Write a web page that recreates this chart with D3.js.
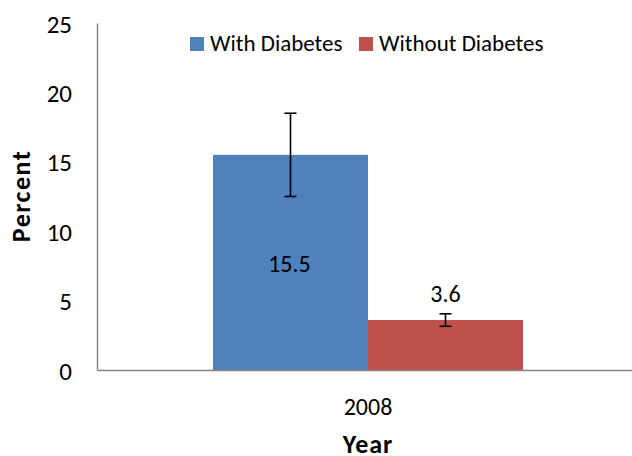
<!DOCTYPE html>
<html>
<head>
<meta charset="utf-8">
<script src="https://cdn.jsdelivr.net/npm/d3@7"></script>
<style>
  body { margin: 0; background: #fff; }
  text { font-family: Carlito, Lato, "Open Sans", sans-serif; fill: #000; }
</style>
</head>
<body>
<div id="chart"></div>
<script>
var categories = ["2008"];
var seriesNames = ["With Diabetes", "Without Diabetes"];
var seriesColors = ["#4F81BD", "#C0504D"];
var values = [15.5, 3.6];
var errLow = [12.5, 3.15];
var errHigh = [18.5, 4.05];
var yTicks = [0, 5, 10, 15, 20, 25];

function init() {
  var width = 632;
  var height = 456;
  var margin = { left: 97, right: -7, top: 23, bottom: 86 };

  var svg = d3.select("#chart")
    .append("svg")
    .attr("width", width)
    .attr("height", height);

  var y = d3.scaleLinear()
    .domain([0, 25])
    .range([height - margin.bottom, margin.top]);

  var x = d3.scaleBand()
    .domain(categories)
    .range([margin.left, width - margin.right]);

  var groupFrac = 0.572;
  var center = x(categories[0]) + x.bandwidth() / 2;
  var xs = d3.scaleBand()
    .domain(seriesNames)
    .range([center - x.bandwidth() * groupFrac / 2, center + x.bandwidth() * groupFrac / 2]);

  // bars
  svg.selectAll("rect.bar")
    .data(values)
    .enter()
    .append("rect")
    .attr("class", "bar")
    .attr("x", function(d, i) { return xs(seriesNames[i]); })
    .attr("width", xs.bandwidth())
    .attr("y", function(d) { return y(d); })
    .attr("height", function(d) { return y(0) - y(d); })
    .style("fill", function(d, i) { return seriesColors[i]; });

  // error bars
  var eb = svg.selectAll("g.err")
    .data(values)
    .enter()
    .append("g")
    .attr("class", "err")
    .attr("stroke", "#000")
    .attr("stroke-width", 1.6);
  eb.append("line")
    .attr("x1", function(d, i) { return xs(seriesNames[i]) + xs.bandwidth() / 2; })
    .attr("x2", function(d, i) { return xs(seriesNames[i]) + xs.bandwidth() / 2; })
    .attr("y1", function(d, i) { return y(errLow[i]); })
    .attr("y2", function(d, i) { return y(errHigh[i]); });
  [errLow, errHigh].forEach(function(arr) {
    eb.append("line")
      .attr("x1", function(d, i) { return xs(seriesNames[i]) + xs.bandwidth() / 2 - 6; })
      .attr("x2", function(d, i) { return xs(seriesNames[i]) + xs.bandwidth() / 2 + 6; })
      .attr("y1", function(d, i) { return y(arr[i]); })
      .attr("y2", function(d, i) { return y(arr[i]); });
  });

  // value labels
  svg.append("text")
    .attr("x", xs(seriesNames[0]) + xs.bandwidth() / 2 - 1)
    .attr("y", 272)
    .attr("text-anchor", "middle")
    .style("font-size", "24px")
    .text(values[0].toFixed(1));
  svg.append("text")
    .attr("x", xs(seriesNames[1]) + xs.bandwidth() / 2)
    .attr("y", 302)
    .attr("text-anchor", "middle")
    .style("font-size", "24px")
    .text(values[1].toFixed(1));

  // y axis
  var yAxis = svg.append("g")
    .attr("transform", "translate(" + margin.left + ",0)")
    .call(d3.axisLeft(y).tickValues(yTicks).tickSize(0).tickPadding(25));
  yAxis.select(".domain").attr("stroke", "#868686").attr("stroke-width", 1.5);
  yAxis.selectAll("text").style("font-size", "25px").attr("dy", "0.36em");

  // x axis
  var xAxis = svg.append("g")
    .attr("transform", "translate(0," + y(0) + ")")
    .call(d3.axisBottom(x).tickSize(0).tickPadding(28));
  xAxis.select(".domain").attr("stroke", "#868686").attr("stroke-width", 1.5);
  xAxis.selectAll("text").style("font-size", "24px");

  // axis titles
  svg.append("text")
    .attr("transform", "translate(30,196) rotate(-90)")
    .attr("text-anchor", "middle")
    .style("font-size", "26px")
    .style("font-weight", "bold")
    .style("letter-spacing", "1.5px")
    .text("Percent");
  svg.append("text")
    .attr("x", center)
    .attr("y", 453)
    .attr("text-anchor", "middle")
    .style("font-size", "26px")
    .style("font-weight", "bold")
    .style("letter-spacing", "1px")
    .text("Year");

  // legend
  var legendX = [190, 359];
  var lg = svg.selectAll("g.legend")
    .data(seriesNames)
    .enter()
    .append("g")
    .attr("class", "legend")
    .attr("transform", function(d, i) { return "translate(" + legendX[i] + ",37)"; });
  lg.append("rect")
    .attr("width", 14)
    .attr("height", 14)
    .style("fill", function(d, i) { return seriesColors[i]; });
  lg.append("text")
    .attr("x", 20)
    .attr("y", 14)
    .style("font-size", "23px")
    .text(function(d) { return d; });
}

window.onload = init;
</script>
</body>
</html>
